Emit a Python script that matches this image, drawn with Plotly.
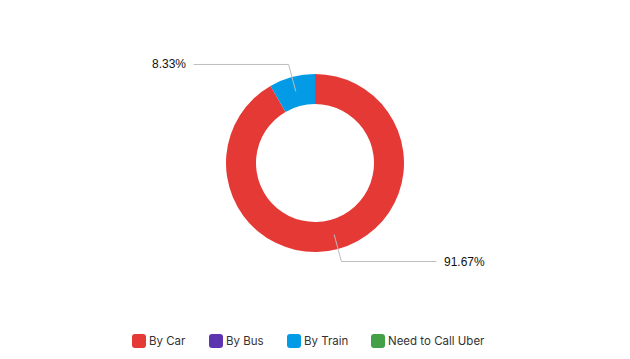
import math
import plotly.graph_objects as go

labels = ["By Car", "By Bus", "By Train", "Need to Call Uber"]
values = [11, 0, 1, 0]
colors = ["#E53935", "#5E35B1", "#039BE5", "#43A047"]

W, H = 630, 359
cx, cy = 315, 163
r_out, r_in = 89, 59

fig = go.Figure(go.Pie(
    labels=labels, values=values, sort=False, direction="clockwise", rotation=0,
    hole=r_in / r_out, textinfo="none", marker=dict(colors=colors, line=dict(width=0)),
    domain=dict(x=[(cx - r_out) / W, (cx + r_out) / W],
                y=[(H - cy - r_out) / H, (H - cy + r_out) / H]),
    showlegend=False,
))

def px(x):
    return x / W

def py(y):
    return 1 - y / H

total = sum(values)
cum = 0
shapes, annos = [], []
for v in values:
    if v > 0:
        mid = (cum + v / 2) / total * 2 * math.pi
        sx, sy = math.sin(mid), -math.cos(mid)
        rm = (r_in + r_out) / 2
        x0, y0 = cx + rm * sx, cy + rm * sy
        x1, y1 = cx + 102 * sx, cy + 102 * sy
        side = 1 if sx > 0 else -1
        x2 = x1 + side * 95
        pct = f"{v / total * 100:.2f}%"
        shapes.append(dict(type="path", xref="paper", yref="paper",
                           path=f"M {px(x0)} {py(y0)} L {px(x1)} {py(y1)} L {px(x2)} {py(y1)}",
                           line=dict(color="#BDBDBD", width=1)))
        annos.append(dict(x=px(x2 + side * 6), y=py(y1), xref="paper", yref="paper",
                          text=pct, showarrow=False, xanchor="left" if side > 0 else "right",
                          yanchor="middle",
                          font=dict(family="Liberation Sans, Arial, sans-serif", size=12, color="#111111")))
    cum += v

# custom legend (rounded square swatches + labels)
leg_x = [132, 209, 287, 371]
leg_y = 341
s = 14
rr = 3
for lx, lab, col in zip(leg_x, labels, colors):
    x0, x1 = lx, lx + s
    y0, y1 = leg_y - s / 2, leg_y + s / 2
    p = (f"M {px(x0 + rr)} {py(y0)} L {px(x1 - rr)} {py(y0)} Q {px(x1)} {py(y0)} {px(x1)} {py(y0 + rr)} "
         f"L {px(x1)} {py(y1 - rr)} Q {px(x1)} {py(y1)} {px(x1 - rr)} {py(y1)} "
         f"L {px(x0 + rr)} {py(y1)} Q {px(x0)} {py(y1)} {px(x0)} {py(y1 - rr)} "
         f"L {px(x0)} {py(y0 + rr)} Q {px(x0)} {py(y0)} {px(x0 + rr)} {py(y0)} Z")
    shapes.append(dict(type="path", xref="paper", yref="paper", path=p,
                       fillcolor=col, line=dict(width=0)))
    annos.append(dict(x=px(lx + s + 1), y=py(leg_y), xref="paper", yref="paper", text=lab,
                      showarrow=False, xanchor="left", yanchor="middle",
                      font=dict(family="Inter, Roboto, sans-serif", size=11.5, color="#333333")))

fig.update_layout(
    width=W, height=H, margin=dict(l=0, r=0, t=0, b=0),
    paper_bgcolor="white", plot_bgcolor="white",
    font=dict(family="Inter, Roboto, sans-serif", size=12, color="#333333"),
    shapes=shapes, annotations=annos, showlegend=False,
)
fig.write_html("out.html")
